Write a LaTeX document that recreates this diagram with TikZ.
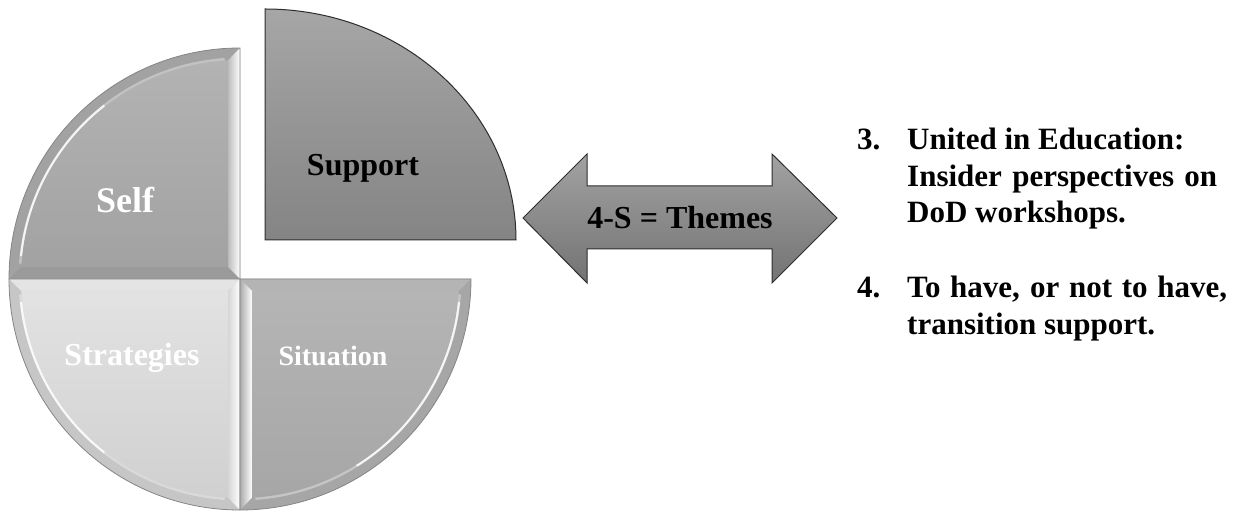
\documentclass[tikz,border=0pt]{standalone}
\usepackage{fontspec}
\setmainfont{Liberation Serif}[BoldFont={Liberation Serif Bold},ItalicFont={Liberation Serif Italic}]
\definecolor{edgegray}{HTML}{858585}
\definecolor{selfarc}{HTML}{A2A2A2}
\definecolor{selfbot}{HTML}{9A9A9A}
\definecolor{selfstrip}{HTML}{BDBDBD}
\definecolor{selffaceT}{HTML}{B3B3B3}
\definecolor{selffaceB}{HTML}{A2A2A2}
\definecolor{stratarc}{HTML}{C6C6C6}
\definecolor{strattop}{HTML}{E4E4E4}
\definecolor{stratstrip}{HTML}{D6D6D6}
\definecolor{stratfaceT}{HTML}{E2E2E2}
\definecolor{stratfaceB}{HTML}{D0D0D0}
\definecolor{sitarc}{HTML}{A6A6A6}
\definecolor{sittop}{HTML}{B4B4B4}
\definecolor{sitstrip}{HTML}{ABABAB}
\definecolor{sitfaceT}{HTML}{B5B5B5}
\definecolor{sitfaceB}{HTML}{A6A6A6}
\definecolor{supT}{HTML}{A6A6A6}
\definecolor{supB}{HTML}{848484}
\definecolor{arrT}{HTML}{A2A2A2}
\definecolor{arrB}{HTML}{737373}
\definecolor{darkline}{HTML}{2E2E2E}
\begin{document}
\begin{tikzpicture}[x=1pt,y=1pt,
  lbl/.style={font=\bfseries\fontsize{32}{38}\selectfont, inner sep=0pt, anchor=base},
  item/.style={font=\bfseries\fontsize{31}{37}\selectfont, inner sep=0pt, anchor=base west},
  qedge/.style={draw=edgegray, line width=0.8pt},
  hlfaint/.style={white, line width=3pt, opacity=.35},
  hlstrong/.style={white, line width=2.5pt, opacity=.85}]

\useasboundingbox (0,0) rectangle (1240,511);
\coordinate (C) at (240,232);

% ---------- Self (top-left) ----------
\fill[selfarc] (C) -- (9,232) arc[start angle=180,end angle=90,radius=231pt] -- cycle;
\draw[hlfaint] ([shift={(240,232)}]176:220pt) arc[start angle=176,end angle=94,radius=220pt];
\draw[hlstrong] ([shift={(240,232)}]174:220pt) arc[start angle=174,end angle=128,radius=220pt];
\fill[selfbot] (C) -- (9,232) -- (21.33,244) -- (228,244) -- cycle;
\shade[left color=selfstrip, right color=white] (C) -- (240,463) -- (228,450.67) -- (228,244) -- cycle;
\begin{scope}
  \clip (C) circle[radius=219pt];
  \shade[top color=selffaceT, bottom color=selffaceB] (20,244) rectangle (228,452);
\end{scope}
\draw[qedge] (C) -- (9,232) arc[start angle=180,end angle=90,radius=231pt] -- cycle;

% ---------- Strategies (bottom-left) ----------
\fill[stratarc] (C) -- (9,232) arc[start angle=180,end angle=270,radius=231pt] -- cycle;
\draw[hlfaint] ([shift={(240,232)}]184:220pt) arc[start angle=184,end angle=266,radius=220pt];
\draw[hlstrong] ([shift={(240,232)}]186:220pt) arc[start angle=186,end angle=232,radius=220pt];
\fill[strattop] (C) -- (9,232) -- (21.33,220) -- (228,220) -- cycle;
\shade[left color=stratstrip, right color=white] (C) -- (240,1) -- (228,13.33) -- (228,220) -- cycle;
\begin{scope}
  \clip (C) circle[radius=219pt];
  \shade[top color=stratfaceT, bottom color=stratfaceB] (20,12) rectangle (228,220);
\end{scope}
\draw[qedge] (C) -- (9,232) arc[start angle=180,end angle=270,radius=231pt] -- cycle;

% ---------- Situation (bottom-right) ----------
\fill[sitarc] (C) -- (471,232) arc[start angle=0,end angle=-90,radius=231pt] -- cycle;
\draw[hlfaint] ([shift={(240,232)}]-4:220pt) arc[start angle=-4,end angle=-86,radius=220pt];
\draw[hlstrong] ([shift={(240,232)}]-6:220pt) arc[start angle=-6,end angle=-58,radius=220pt];
\fill[sittop] (C) -- (471,232) -- (458.67,220) -- (252,220) -- cycle;
\shade[left color=sitstrip, right color=white] (C) -- (240,1) -- (252,13.33) -- (252,220) -- cycle;
\begin{scope}
  \clip (C) circle[radius=219pt];
  \shade[top color=sitfaceT, bottom color=sitfaceB] (252,12) rectangle (460,220);
\end{scope}
\draw[qedge] (C) -- (471,232) arc[start angle=0,end angle=-90,radius=231pt] -- cycle;

% ---------- Support (exploded, top-right) ----------
\shade[top color=supT, bottom color=supB, draw=darkline, line width=1pt]
  (265,271) -- (516,271) arc[start angle=0,end angle=90,x radius=251pt,y radius=231pt] -- cycle;

% ---------- Double arrow ----------
\shade[top color=arrT, bottom color=arrB, draw=darkline, line width=1pt]
  (523,293) -- (587,357) -- (587,325) -- (772,325) -- (772,357) -- (837,293)
  -- (772,228) -- (772,262) -- (587,262) -- (587,228) -- cycle;

% ---------- Labels ----------
\node[lbl, text=white, font=\bfseries\fontsize{36}{42}\selectfont] (self) at (125,298) {Self};
\node[lbl, text=black] (support) at (363,335) {Support};
\node[lbl, text=white] (strat) at (132,145) {Strategies};
\node[lbl, text=white, font=\bfseries\fontsize{28}{34}\selectfont] (sit) at (333,145) {Situation};
\node[lbl, text=black] (themes) at (680,282) {4-S = Themes};

% ---------- Right list ----------
\node[item] (n3) at (857,361) {3.};
\node[item] (l3a) at (907,361) {United in Education:};
\node[item] (l3b) at (907,324) {\makebox[310pt][s]{Insider perspectives on}};
\node[item] (l3c) at (907,288) {DoD workshops.};
\node[item] (n4) at (857,213) {4.};
\node[item] (l4a) at (907,213) {\makebox[320pt][s]{To have, or not to have,}};
\node[item] (l4b) at (907,176) {transition support.};
\end{tikzpicture}
\end{document}
